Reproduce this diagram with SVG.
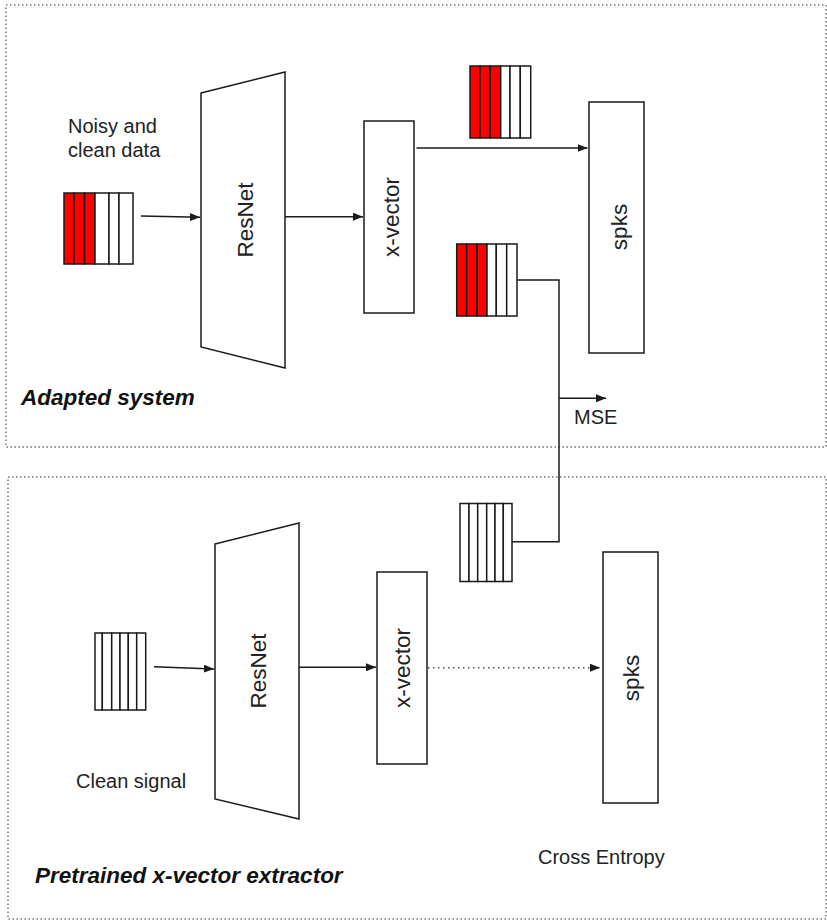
<svg xmlns="http://www.w3.org/2000/svg" width="827" height="920" viewBox="0 0 827 920">
<style>
.frame{fill:none;stroke:#777;stroke-width:1.5;stroke-dasharray:1.5 2.5}
.shape{fill:#fff;stroke:#1a1a1a;stroke-width:1.5}
.red{fill:#ff0000;stroke:#1a1a1a;stroke-width:1.5}
.line{fill:none;stroke:#1a1a1a;stroke-width:1.5}
.arrow{fill:none;stroke:#1a1a1a;stroke-width:1.5;marker-end:url(#ah)}
.dotted{fill:none;stroke:#555;stroke-width:1.5;stroke-dasharray:1.5 3.5;marker-end:url(#ah)}
.lbl{font-family:"Liberation Sans",Arial,sans-serif;font-size:20px;fill:#222}
.node{font-family:"Liberation Sans",Arial,sans-serif;font-size:22.5px;fill:#222;text-anchor:middle;dominant-baseline:central}
.title{font-family:"Liberation Sans",Arial,sans-serif;font-size:22.5px;font-weight:bold;font-style:italic;fill:#111}
</style>
<defs>
<marker id="ah" viewBox="0 0 10 8" refX="10" refY="4" markerWidth="10" markerHeight="8" markerUnits="userSpaceOnUse" orient="auto">
<path d="M0,0 L10,4 L0,8 Z" fill="#1a1a1a"/>
</marker>
</defs>
<rect width="827" height="920" fill="#fff"/>

<g id="frame-adapted">
<rect class="frame" x="6" y="5" width="820" height="442"/>
<text class="title" x="21" y="405">Adapted system</text>
</g>
<g id="frame-pretrained">
<rect class="frame" x="8" y="477" width="818" height="442"/>
<text class="title" x="35" y="883">Pretrained x-vector extractor</text>
</g>

<g id="input-noisy">
<rect class="red" x="64" y="193" width="10" height="71"/>
<rect class="red" x="74" y="193" width="10.5" height="71"/>
<rect class="red" x="84.5" y="193" width="10.5" height="71"/>
<rect class="shape" x="95" y="193" width="14" height="71"/>
<rect class="shape" x="109" y="193" width="10" height="71"/>
<rect class="shape" x="119" y="193" width="14" height="71"/>
<text class="lbl" x="68" y="133">Noisy and</text>
<text class="lbl" x="68" y="157">clean data</text>
</g>

<g id="resnet-top">
<polygon class="shape" points="201,93 285,72 285,368 201,347"/>
<text class="node" transform="translate(245,220) rotate(-90)">ResNet</text>
</g>

<g id="xvector-top">
<rect class="shape" x="364" y="121" width="50" height="192"/>
<text class="node" transform="translate(391,217) rotate(-90)">x-vector</text>
</g>

<g id="emb-top">
<rect class="red" x="470" y="66" width="10" height="72"/>
<rect class="red" x="480" y="66" width="10.3" height="72"/>
<rect class="red" x="490.3" y="66" width="10.4" height="72"/>
<rect class="shape" x="500.7" y="66" width="9.3" height="72"/>
<rect class="shape" x="510" y="66" width="10.3" height="72"/>
<rect class="shape" x="520.3" y="66" width="10.4" height="72"/>
</g>

<g id="emb-mid">
<rect class="red" x="456.7" y="244" width="10" height="72"/>
<rect class="red" x="466.7" y="244" width="10.3" height="72"/>
<rect class="red" x="477" y="244" width="10" height="72"/>
<rect class="shape" x="487" y="244" width="9.3" height="72"/>
<rect class="shape" x="496.3" y="244" width="10.4" height="72"/>
<rect class="shape" x="506.7" y="244" width="10.3" height="72"/>
</g>

<g id="spks-top">
<rect class="shape" x="589" y="102" width="55" height="251"/>
<text class="node" transform="translate(619,227) rotate(-90)">spks</text>
</g>

<g id="mse">
<text class="lbl" x="574" y="424">MSE</text>
</g>

<g id="emb-clean">
<rect class="shape" x="460" y="503.5" width="9" height="78"/>
<rect class="shape" x="469" y="503.5" width="8.7" height="78"/>
<rect class="shape" x="477.7" y="503.5" width="9" height="78"/>
<rect class="shape" x="486.7" y="503.5" width="8.3" height="78"/>
<rect class="shape" x="495" y="503.5" width="8.3" height="78"/>
<rect class="shape" x="503.3" y="503.5" width="8.7" height="78"/>
</g>

<g id="input-clean">
<rect class="shape" x="95" y="633" width="7.3" height="77"/>
<rect class="shape" x="102.3" y="633" width="9.4" height="77"/>
<rect class="shape" x="111.7" y="633" width="8.3" height="77"/>
<rect class="shape" x="120" y="633" width="8.3" height="77"/>
<rect class="shape" x="128.3" y="633" width="8.4" height="77"/>
<rect class="shape" x="136.7" y="633" width="9" height="77"/>
<text class="lbl" x="76" y="788">Clean signal</text>
</g>

<g id="resnet-bottom">
<polygon class="shape" points="215,544 299,523 299,819 215,799"/>
<text class="node" transform="translate(258,671) rotate(-90)">ResNet</text>
</g>

<g id="xvector-bottom">
<rect class="shape" x="377" y="572" width="50" height="192"/>
<text class="node" transform="translate(402,668) rotate(-90)">x-vector</text>
</g>

<g id="spks-bottom">
<rect class="shape" x="603" y="552" width="55" height="251"/>
<text class="node" transform="translate(631,678) rotate(-90)">spks</text>
</g>

<g id="cross-entropy">
<text class="lbl" x="538" y="864">Cross Entropy</text>
</g>

<g id="connectors">
<path class="arrow" d="M141,216 L200,217.3"/>
<path class="arrow" d="M285,216.7 L363,216.7"/>
<path class="arrow" d="M416.5,148 L587.5,148"/>
<path class="line" d="M517,280 L559,280 L559,541.7 L512,541.7"/>
<path class="arrow" d="M559,398.3 L606,398.3"/>
<path class="arrow" d="M154,666.7 L214,669"/>
<path class="arrow" d="M299,667.3 L376,667.3"/>
<path class="dotted" d="M428,667.7 L600,667.7"/>
</g>
</svg>
